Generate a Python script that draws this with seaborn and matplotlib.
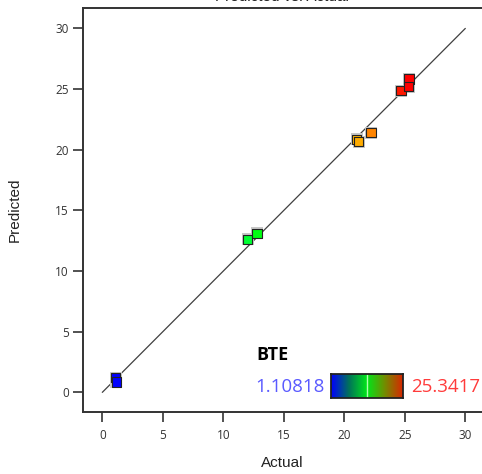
import numpy as np
import pandas as pd
import matplotlib
matplotlib.use("Agg")
import matplotlib.pyplot as plt
from matplotlib.colors import LinearSegmentedColormap, hsv_to_rgb
import seaborn as sns

# ---- data ----
actual = [1.10818, 1.15, 12.02, 12.79, 21.02, 21.20, 22.20, 24.69, 25.3417, 25.32]
predicted = [1.20, 0.85, 12.61, 13.11, 20.86, 20.66, 21.40, 24.86, 25.83, 25.20]
line_ends = [0, 30]
x_ticks = [0, 5, 10, 15, 20, 25, 30]
y_ticks = [0, 5, 10, 15, 20, 25, 30]
response_name = "BTE"
range_low = 1.10818
range_high = 25.3417

df = pd.DataFrame({"Actual": actual, "Predicted": predicted})

sns.set_style("white")
plt.rcParams["font.family"] = ["Liberation Sans", "DejaVu Sans"]

fig = plt.figure(figsize=(4.82, 4.74), dpi=100)
ax = fig.add_axes([82.7 / 482, 62 / 474, (482 - 82.7) / 482, (412 - 8.3) / 474])

# point colormap: hue interpolation blue -> green -> red
hues = np.linspace(240, 0, 256) / 360.0
pt_colors = hsv_to_rgb(np.stack([hues, np.ones(256), np.ones(256)], axis=1))
pt_cmap = LinearSegmentedColormap.from_list("pts", pt_colors)

sns.lineplot(x=line_ends, y=line_ends, ax=ax, color="#404040", linewidth=0.9, zorder=1)
sns.scatterplot(data=df, x="Actual", y="Predicted", ax=ax, color="#c8c8c8", marker="s",
                s=80, linewidth=0, zorder=2, legend=False)
sns.scatterplot(data=df, x="Actual", y="Predicted", hue="Actual", palette=pt_cmap,
                hue_norm=(range_low, range_high), ax=ax, marker="s", s=45,
                edgecolor="#222222", linewidth=0.8, zorder=3, legend=False)

ax.set_xlim(-1.62, 31.38)
ax.set_ylim(-1.62, 31.66)
ax.set_xticks(x_ticks)
ax.set_yticks(y_ticks)
ax.tick_params(axis="both", direction="out", length=7, width=1.2, color="#333333",
               labelsize=8.5, labelcolor="#333333", left=True, bottom=True)
ax.tick_params(axis="x", pad=5)
ax.tick_params(axis="y", pad=3)
for lab in ax.get_xticklabels() + ax.get_yticklabels():
    lab.set_fontfamily(["Open Sans", "DejaVu Sans"])
for side in ["left", "top", "bottom"]:
    ax.spines[side].set_visible(True)
    ax.spines[side].set_color("#333333")
    ax.spines[side].set_linewidth(1.4)
ax.spines["right"].set_visible(False)

ax.set_xlabel("Actual", fontsize=11, color="#222222", labelpad=10)
ax.set_ylabel("Predicted", fontsize=11, color="#222222", labelpad=24)
ax.set_title("Predicted vs. Actual", fontsize=11, color="#222222", pad=5.5)

# colorbar legend
cb_cmap = LinearSegmentedColormap.from_list(
    "cb", [(0, 0, 1), (0, 0.45, 0.35), (0, 0.9, 0.1), (0.45, 0.55, 0), (0.85, 0.15, 0)])
cax = fig.add_axes([331 / 482, (474 - 398) / 474, 72 / 482, 24 / 474])
grad = np.linspace(0, 1, 256)[None, :]
cax.imshow(grad, aspect="auto", cmap=cb_cmap, extent=[0, 1, 0, 1])
cax.axvline(0.5, color="#b0ffb0", linewidth=1.0)
cax.set_xticks([])
cax.set_yticks([])
for s in cax.spines.values():
    s.set_visible(True)
    s.set_color("#222222")
    s.set_linewidth(1.3)

fig.text(256 / 482, (474 - 355) / 474, response_name, fontsize=13, fontweight="bold",
         family=["Open Sans", "DejaVu Sans"], color="black", ha="left", va="center")
fig.text(325 / 482, (474 - 387) / 474, f"{range_low:g}", fontsize=13.5,
         family=["Open Sans", "DejaVu Sans"], color="#5a5aff", ha="right", va="center")
fig.text(411 / 482, (474 - 387) / 474, f"{range_high:g}", fontsize=13.5,
         family=["Open Sans", "DejaVu Sans"], color="#ff3b3b", ha="left", va="center")

fig.savefig("out.png", dpi=100)
